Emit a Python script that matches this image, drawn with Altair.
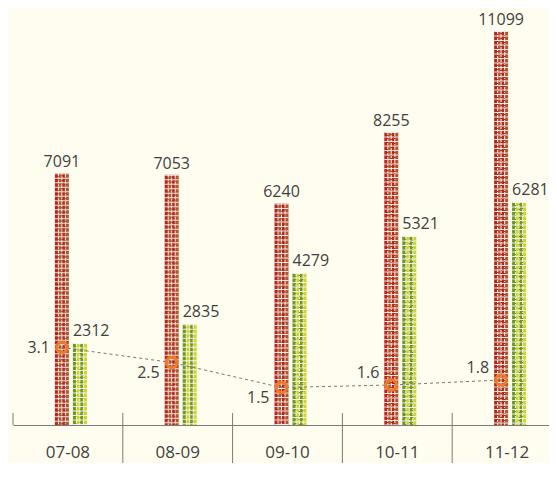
import altair as alt
import pandas as pd

categories = ["07-08", "08-09", "09-10", "10-11", "11-12"]
series_a = [7091, 7053, 6240, 8255, 11099]
series_b = [2312, 2835, 4279, 5321, 6281]
ratio = [3.1, 2.5, 1.5, 1.6, 1.8]

df = pd.DataFrame({"cat": categories, "a": series_a, "b": series_b, "r": ratio})

FONT = "Open Sans"
TXT = "#3f3f3f"
BG = "#fffdef"

xscale = alt.Scale(domain=categories, range=[0, 549], paddingInner=0, paddingOuter=0)
AXIS = alt.Axis(ticks=False, tickSize=0, domainColor="#7a7a7a", domainWidth=1,
                labelAngle=0, labelFont=FONT, labelFontSize=17, labelColor=TXT,
                labelPadding=27, labelBaseline="middle", grid=False)
X = alt.X("cat:N", scale=xscale, sort=categories, title=None, axis=AXIS)
XB = alt.X("cat:N", scale=xscale, sort=categories, title=None, axis=AXIS, bandPosition=0)

bar_scale = alt.Scale(domain=[0, 11747], nice=False, zero=True)
line_scale = alt.Scale(domain=[0, 16.68], nice=False, zero=True)

def stripes(c1, c2):
    stops = []
    n = 4
    for i in range(n):
        col = c1 if i % 2 == 0 else c2
        stops.append(alt.GradientStop(offset=i / n, color=col))
        stops.append(alt.GradientStop(offset=(i + 1) / n - 0.001, color=col))
    return alt.LinearGradient(gradient="linear", stops=stops, x1=0, x2=1, y1=0, y2=0)

base = alt.Chart(df)

RED_OFF = -6
GRN_OFF = 12

bar_a = base.mark_bar(width=14, xOffset=RED_OFF, fill=stripes("#b5261e", "#b0562b")).encode(
    x=X, y=alt.Y("a:Q", scale=bar_scale, axis=None))
bar_b = base.mark_bar(width=14, xOffset=GRN_OFF, fill=stripes("#6f9428", "#cbd42c")).encode(
    x=X, y=alt.Y("b:Q", scale=bar_scale, axis=None))

def texture(field, center):
    layers = []
    dashes = [[3, 1, 2, 1], [2, 1, 4, 1], [4, 1, 1, 1]]
    for k, d in enumerate([-3.5, 0, 3.5]):
        layers.append(base.mark_rule(xOffset=center + d, color="white", strokeWidth=1,
                                     strokeDash=dashes[k], opacity=0.9).encode(
            x=X, y=alt.Y(f"{field}:Q", scale=bar_scale, axis=None), y2=alt.datum(0)))
    layers.append(base.mark_rule(xOffset=center, color="white", strokeWidth=14,
                                 strokeDash=[1, 3.5], opacity=0.85).encode(
        x=X, y=alt.Y(f"{field}:Q", scale=bar_scale, axis=None), y2=alt.datum(0)))
    return layers

lbl_a = base.mark_text(xOffset=RED_OFF, dy=-6, baseline="alphabetic", align="center",
                       font=FONT, fontSize=16, color=TXT).encode(
    x=X, y=alt.Y("a:Q", scale=bar_scale, axis=None), text="a:Q")
lbl_b = base.mark_text(xOffset=5, dy=-7, baseline="alphabetic", align="left",
                       font=FONT, fontSize=16, color=TXT).encode(
    x=X, y=alt.Y("b:Q", scale=bar_scale, axis=None), text="b:Q")

line = base.mark_line(xOffset=RED_OFF, color="#777777", strokeWidth=1, strokeDash=[3, 3]).encode(
    x=X, y=alt.Y("r:Q", scale=line_scale, axis=None))
pts = base.mark_point(xOffset=RED_OFF, shape="circle", size=110, filled=False,
                      stroke="#f07a28", strokeWidth=3, opacity=1).encode(
    x=X, y=alt.Y("r:Q", scale=line_scale, axis=None))

def rlabel(cats, dy):
    return base.transform_filter(alt.FieldOneOfPredicate(field="cat", oneOf=cats)).mark_text(
        xOffset=RED_OFF - 12, dy=dy, align="right", baseline="middle",
        font=FONT, fontSize=16, color=TXT).encode(
        x=X, y=alt.Y("r:Q", scale=line_scale, axis=None), text=alt.Text("r:Q", format=".1f"))

tick_up = base.mark_rule(color="#7a7a7a", strokeWidth=1).encode(
    x=XB, y=alt.value(405), y2=alt.value(417))
tick_down = base.transform_filter(
    alt.FieldOneOfPredicate(field="cat", oneOf=categories[1:])).mark_rule(
    color="#7a7a7a", strokeWidth=1).encode(
    x=XB, y=alt.value(417), y2=alt.value(480))

layers = [bar_a, bar_b] + texture("a", RED_OFF) + texture("b", GRN_OFF) + [
    tick_up, tick_down, lbl_a, lbl_b, line, pts,
    rlabel([categories[0]], 0), rlabel(categories[1:3], 10), rlabel(categories[3:5], -12)]

chart = alt.layer(*layers).resolve_scale(y="independent").properties(
    width=536, height=417,
    autosize=alt.AutoSizeParams(type="none"),
    padding={"left": 5, "top": 0, "right": 0, "bottom": 38},
    background=BG,
).configure_view(stroke=None)

chart.save("out.html", embed_options={"renderer": "svg", "actions": False})
